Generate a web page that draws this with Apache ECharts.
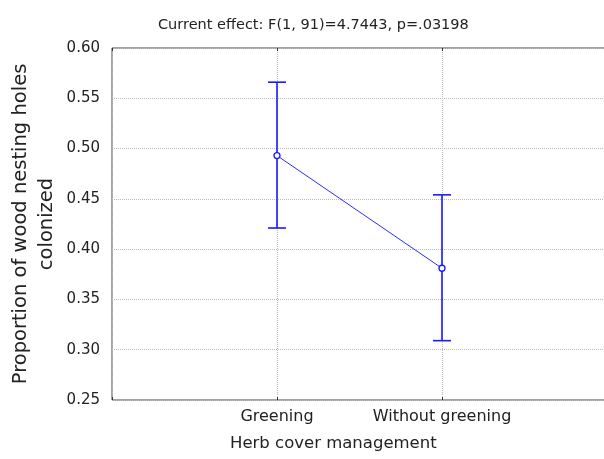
<!DOCTYPE html>
<html><head><meta charset="utf-8">
<script src="https://cdn.jsdelivr.net/npm/echarts@6/dist/echarts.min.js"></script>
<style>html,body{margin:0;padding:0;background:#fff}#c{width:604px;height:459px}</style>
</head><body><div id="c"></div>
<script>
const categories = ["Greening", "Without greening"];
const means = [0.493, 0.381];
const upper = [0.566, 0.454];
const lower = [0.421, 0.309];
const yTicks = [0.25, 0.30, 0.35, 0.40, 0.45, 0.50, 0.55, 0.60];
const titleText = "Current effect: F(1, 91)=4.7443, p=.03198";

const FONT = "DejaVu Sans, Liberation Sans, Arial, sans-serif";
const chart = echarts.init(document.getElementById('c'));
const pts = means.map((m, i) => [i + 1, m]);
const bars = means.map((m, i) => [i + 1, lower[i], upper[i]]);
chart.setOption({
  animation: false,
  textStyle: {fontFamily: FONT},
  title: [
    {text: titleText, left: 153, top: 13, textStyle: {fontSize: 14.5, fontWeight: 'normal', color: '#222', fontFamily: FONT}},
    {text: "Herb cover management", left: 225, top: 430, textStyle: {fontSize: 16.5, fontWeight: 'normal', color: '#222', fontFamily: FONT}}
  ],
  grid: {left: 112, top: 48, width: 495, height: 352, show: true, borderColor: '#444', borderWidth: 1, containLabel: false, outerBoundsMode: 'none'},
  xAxis: [{
    type: 'value', min: 0, max: 3, interval: 1,
    axisLine: {show: false},
    axisTick: {show: true, inside: true, length: 3, lineStyle: {color: '#333'}},
    axisLabel: {fontSize: 16, color: '#222', margin: 9, fontFamily: FONT,
      formatter: v => (v >= 1 && v <= categories.length && Number.isInteger(v)) ? categories[v - 1] : ''},
    splitLine: {show: true, lineStyle: {color: '#bbb', type: [1, 1]}}
  }, {
    type: 'value', min: 0, max: 3, interval: 1, position: 'top',
    axisLine: {show: false},
    axisTick: {show: true, inside: true, length: 3, lineStyle: {color: '#333'}},
    axisLabel: {show: false}, splitLine: {show: false}
  }],
  yAxis: {
    type: 'value', min: 0.25, max: 0.60, interval: 0.05,
    axisLine: {show: false},
    axisTick: {show: false},
    axisLabel: {fontSize: 15, color: '#222', margin: 12, fontFamily: FONT, formatter: v => v.toFixed(2)},
    splitLine: {show: true, lineStyle: {color: '#bbb', type: [1, 1]}},
    name: "Proportion of wood nesting holes\ncolonized",
    nameLocation: 'middle', nameGap: 52, nameRotate: 90, nameMoveOverlap: false,
    nameTextStyle: {fontSize: 19.5, color: '#222', lineHeight: 26, align: 'center', fontFamily: FONT}
  },
  series: [{
    type: 'custom',
    data: bars,
    z: 3,
    renderItem: (params, api) => {
      const x = api.value(0);
      const lo = api.coord([x, api.value(1)]);
      const hi = api.coord([x, api.value(2)]);
      const hw = 9;
      const st = {stroke: '#1a1aff', lineWidth: 1.6};
      return {type: 'group', children: [
        {type: 'line', shape: {x1: lo[0], y1: lo[1], x2: hi[0], y2: hi[1]}, style: st},
        {type: 'line', shape: {x1: hi[0] - hw, y1: hi[1], x2: hi[0] + hw, y2: hi[1]}, style: st},
        {type: 'line', shape: {x1: lo[0] - hw, y1: lo[1], x2: lo[0] + hw, y2: lo[1]}, style: st}
      ]};
    }
  }, {
    type: 'line', data: pts, z: 4,
    lineStyle: {color: '#2a2aff', width: 1},
    symbol: 'circle', symbolSize: 6,
    itemStyle: {color: '#fff', borderColor: '#1a1aff', borderWidth: 1.3}
  }]
});
</script></body></html>
